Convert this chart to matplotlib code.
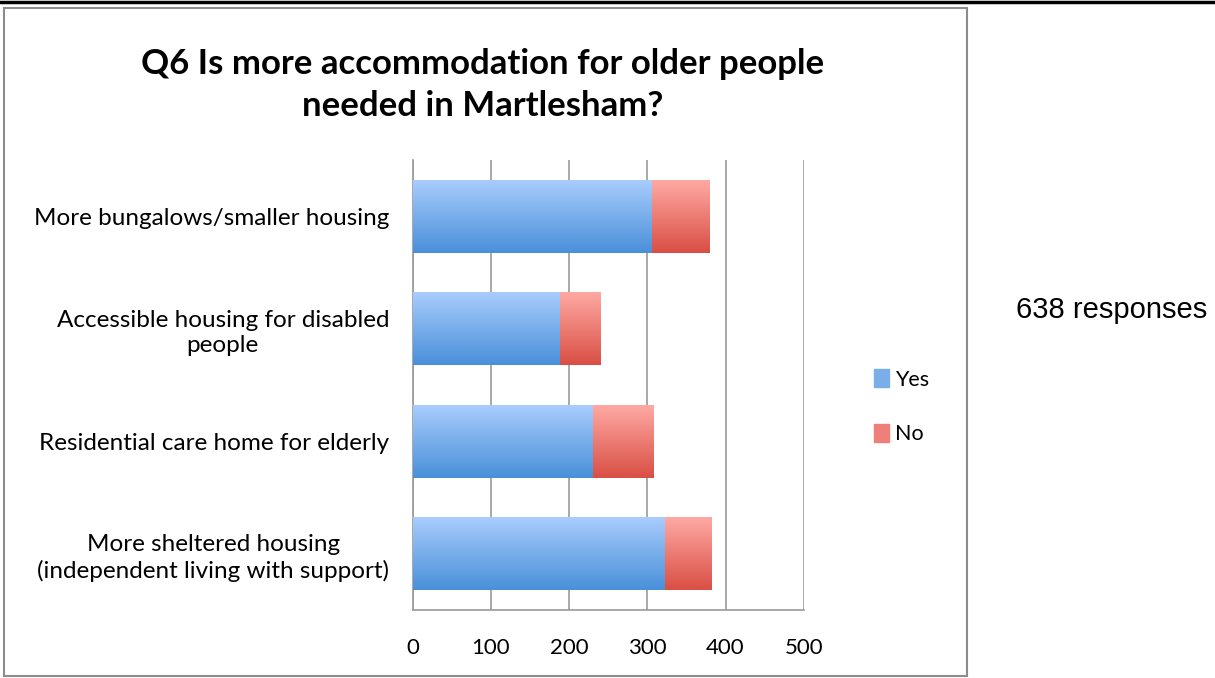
import numpy as np
import matplotlib
matplotlib.use('Agg')
import matplotlib.pyplot as plt
from matplotlib.patches import Rectangle
from matplotlib.colors import LinearSegmentedColormap

plt.rcParams['font.family'] = ['Lato', 'DejaVu Sans']

categories = ['More bungalows/smaller housing',
              'Accessible housing for disabled\npeople',
              'Residential care home for elderly',
              'More sheltered housing\n(independent living with support)']
yes_vals = [306, 188, 231, 323]
no_vals = [73, 52, 78, 60]
x_ticks = [0, 100, 200, 300, 400, 500]

blue_cmap = LinearSegmentedColormap.from_list('b', ['#a9cdfd', '#4a90d9'])
red_cmap = LinearSegmentedColormap.from_list('r', ['#ffaaa5', '#d94f44'])

fig = plt.figure(figsize=(12.15, 6.78), dpi=100)
ax = fig.add_axes([0.3397, 0.1003, 0.3218, 0.6637])

y = np.arange(len(categories))
bars_yes = ax.barh(y, yes_vals, height=0.65, color='#7aaee8', label='Yes', zorder=3)
bars_no = ax.barh(y, no_vals, left=yes_vals, height=0.65, color='#ee7f79', label='No', zorder=3)

# vertical gradient fill clipped to each bar
grad = np.linspace(0, 1, 64).reshape(-1, 1)
for bars, cmap in [(bars_yes, blue_cmap), (bars_no, red_cmap)]:
    for b in bars:
        x0, y0 = b.get_x(), b.get_y()
        w, h = b.get_width(), b.get_height()
        im = ax.imshow(grad, cmap=cmap, aspect='auto', extent=(x0, x0 + w, y0 + h, y0),
                       origin='upper', zorder=4, interpolation='bilinear')
        im.set_clip_path(b)

ax.set_xlim(0, 500)
ax.set_ylim(len(categories) - 0.5, -0.5)
ax.set_xticks(x_ticks)
ax.set_xticklabels([str(t) for t in x_ticks], fontsize=16)
ax.set_yticks(y)
ax.set_yticklabels(categories, fontsize=17.5, multialignment='center', linespacing=1.25)
ax.tick_params(axis='both', length=0)
ax.tick_params(axis='y', pad=17)
ax.tick_params(axis='x', pad=20)
ax.xaxis.grid(True, color='#999999', linewidth=1.2, zorder=0)
ax.set_axisbelow(True)
for s in ['top', 'right']:
    ax.spines[s].set_visible(False)
for s in ['left', 'bottom']:
    ax.spines[s].set_color('#999999')
    ax.spines[s].set_linewidth(1.2)

fig.text(0.3975, 0.874, 'Q6 Is more accommodation for older people\nneeded in Martlesham?',
         ha='center', va='center', fontsize=25, fontweight='bold', linespacing=1.38)

leg = fig.legend(loc='center left', bbox_to_anchor=(0.703, 0.4), frameon=False,
                 fontsize=15.5, handlelength=0.7, handleheight=0.9, handletextpad=0.3,
                 labelspacing=1.6)
for h, c in zip(leg.legend_handles, ['#7aaee8', '#ee7f79']):
    h.set_color(c)

fig.text(0.836, 0.543, '638 responses', fontsize=21, family='Liberation Sans', va='center')

# outer chart frame and top rule
fig.add_artist(Rectangle((0.003, 0.003), 0.793, 0.985, transform=fig.transFigure,
                         fill=False, edgecolor='#8c8c8c', linewidth=1.5))
fig.add_artist(plt.Line2D([0, 1], [0.997, 0.997], transform=fig.transFigure,
                          color='black', linewidth=2.5))

plt.savefig('out.png', dpi=100)
